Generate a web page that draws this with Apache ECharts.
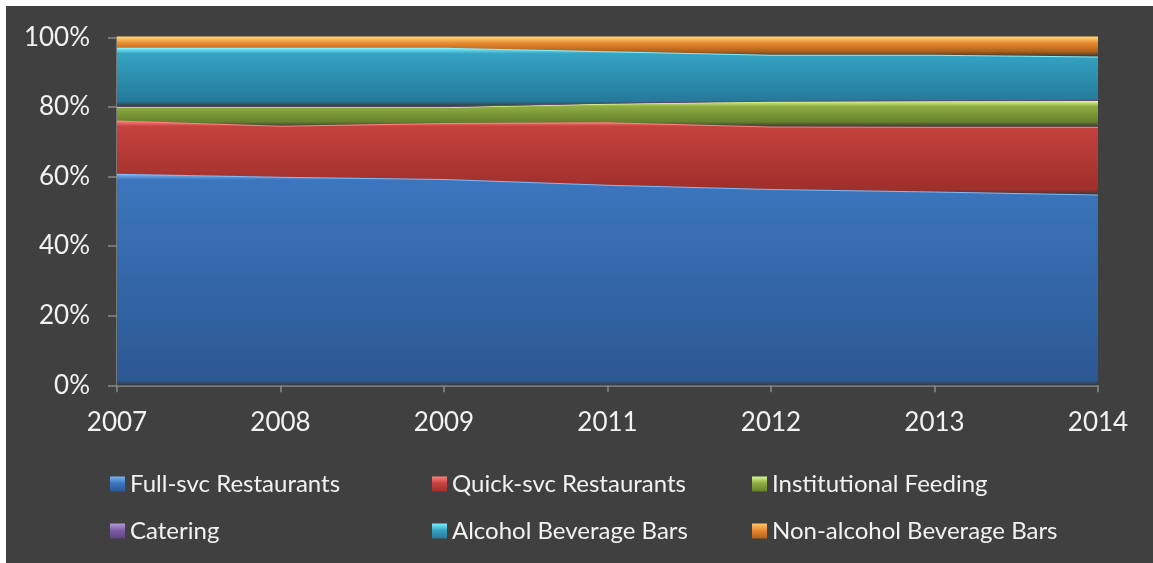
<!DOCTYPE html>
<html>
<head>
<meta charset="utf-8">
<script src="https://cdn.jsdelivr.net/npm/echarts@6/dist/echarts.min.js"></script>
<style>
  html, body { margin: 0; padding: 0; background: #ffffff; }
  #chart { position: absolute; left: 6px; top: 6px; width: 1147px; height: 557px; }
</style>
</head>
<body>
<div id="chart"></div>
<script>
// Share of foodservice sales by segment, percent of total
const categories = ['2007', '2008', '2009', '2011', '2012', '2013', '2014'];
const seriesNames = ['Full-svc Restaurants', 'Quick-svc Restaurants', 'Institutional Feeding',
                     'Catering', 'Alcohol Beverage Bars', 'Non-alcohol Beverage Bars'];
const fullSvc       = [60.8, 59.9, 59.3, 57.6, 56.4, 55.7, 54.8];
const quickSvc      = [15.3, 14.7, 16.1, 18.0, 18.0, 18.6, 19.5];
const institutional = [3.9, 5.4, 4.6, 5.4, 7.2, 7.4, 7.5];
const catering      = [0.2, 0.2, 0.2, 0.2, 0.2, 0.2, 0.2];
const alcoholBars   = [16.8, 16.8, 16.8, 14.8, 13.2, 13.1, 12.5];
const nonAlcBars    = [3.0, 3.0, 3.0, 4.0, 5.0, 5.0, 5.5];
const yTicks = [0, 20, 40, 60, 80, 100];

const values = [fullSvc, quickSvc, institutional, catering, alcoholBars, nonAlcBars];

// top edge highlight, band body, band bottom
const palette = [
  ['#80baf8', '#3c76be', '#2c5892'],
  ['#ff8480', '#c6423e', '#9e2f2b'],
  ['#e0fa94', '#8dad43', '#67822c'],
  ['#5a4a70', '#4a3a60', '#3a2e4c'],
  ['#84f0ff', '#35a3c3', '#25799a'],
  ['#ffcc70', '#e88a30', '#b0601a']
];
const legendIcon = [
  ['#7ab4f4', '#3c76be', '#2c5892'],
  ['#ff7e7a', '#c6423e', '#9e2f2b'],
  ['#dcf890', '#8dad43', '#67822c'],
  ['#b69ad8', '#7d5ea8', '#5e437f'],
  ['#80eeff', '#35a3c3', '#25799a'],
  ['#ffc86c', '#e88a30', '#b0601a']
];

const FONT = 'Lato, "Open Sans", sans-serif';
const PLOT_H = 348;                       // grid height in px
const pxPerUnit = PLOT_H / (yTicks[yTicks.length - 1] - yTicks[0]);

// Stacked tops/bottoms give each band's bounding box, so the bright rim
// at the top of every band can be held to a few pixels.
const bottoms = [], tops = [];
let running = categories.map(() => 0);
values.forEach((arr) => {
  bottoms.push(running.slice());
  running = running.map((v, j) => v + arr[j]);
  tops.push(running.slice());
});

const chart = echarts.init(document.getElementById('chart'));

const series = seriesNames.map((name, i) => {
  const boxH = Math.max(1, (Math.max(...tops[i]) - Math.min(...bottoms[i])) * pxPerUnit);
  const rim = Math.min(0.4, 6 / boxH);
  const edge = Math.max(0.6, 1 - 5 / boxH);
  return {
    name: name,
    type: 'line',
    stack: 'share',
    data: values[i],
    symbol: 'none',
    smooth: false,
    z: 2 + i,
    lineStyle: { color: palette[i][0], width: 2 },
    itemStyle: {
      color: new echarts.graphic.LinearGradient(0, 0, 0, 1, [
        { offset: 0, color: legendIcon[i][0] },
        { offset: 0.45, color: legendIcon[i][1] },
        { offset: 1, color: legendIcon[i][2] }
      ])
    },
    areaStyle: {
      opacity: 1,
      color: new echarts.graphic.LinearGradient(0, 0, 0, 1, [
        { offset: 0, color: palette[i][0] },
        { offset: rim, color: palette[i][1] },
        { offset: edge, color: palette[i][2] },
        { offset: 1, color: '#3a3a3a' }
      ])
    },
    emphasis: { disabled: true }
  };
});

// One legend per entry so the columns line up
const legendSlots = [
  { left: 99, top: 461 }, { left: 421, top: 461 }, { left: 741, top: 461 },
  { left: 99, top: 508 }, { left: 421, top: 508 }, { left: 741, top: 508 }
];
const legends = seriesNames.map((name, i) => ({
  left: legendSlots[i].left,
  top: legendSlots[i].top,
  data: [name],
  icon: 'rect',
  itemWidth: 15,
  itemHeight: 15,
  selectedMode: false,
  textStyle: { color: '#f2f2f2', fontSize: 24, fontFamily: FONT }
}));

chart.setOption({
  backgroundColor: '#404040',
  animation: false,
  grid: { left: 111, top: 31.3, width: 981, height: PLOT_H, containLabel: false },
  xAxis: {
    type: 'category',
    data: categories,
    boundaryGap: false,
    axisLine: { lineStyle: { color: '#8a8a8a', width: 1.5 } },
    axisTick: { show: true, alignWithLabel: true, length: 7, lineStyle: { color: '#8a8a8a', width: 1.5 } },
    axisLabel: { color: '#f2f2f2', fontSize: 26, fontFamily: FONT, margin: 24 },
    splitLine: { show: false }
  },
  yAxis: {
    type: 'value',
    min: yTicks[0],
    max: yTicks[yTicks.length - 1],
    interval: yTicks[1] - yTicks[0],
    axisLine: { show: true, lineStyle: { color: '#8a8a8a', width: 1.5 } },
    axisTick: { show: true, length: 9, lineStyle: { color: '#8a8a8a', width: 1.5 } },
    axisLabel: { color: '#f2f2f2', fontSize: 26, fontFamily: FONT, margin: 27, formatter: '{value}%' },
    splitLine: { show: false }
  },
  legend: legends,
  series: series
});
</script>
</body>
</html>
